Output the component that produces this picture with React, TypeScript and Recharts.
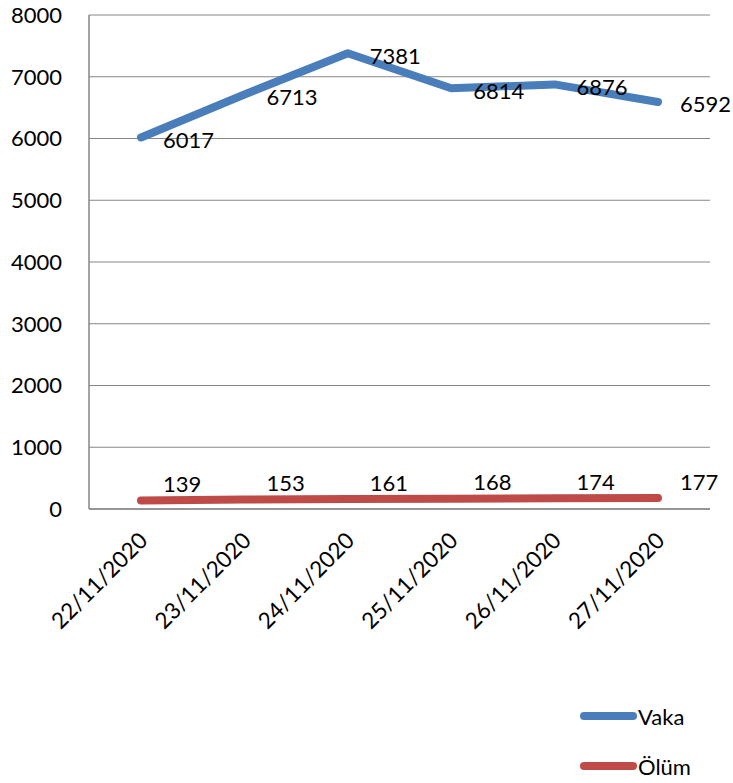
import { CartesianGrid, Legend, Line, LineChart, XAxis, YAxis } from 'recharts';

const dates = ['22/11/2020', '23/11/2020', '24/11/2020', '25/11/2020', '26/11/2020', '27/11/2020'];
const vaka = [6017, 6713, 7381, 6814, 6876, 6592];
const olum = [139, 153, 161, 168, 174, 177];
const yTicks = [0, 1000, 2000, 3000, 4000, 5000, 6000, 7000, 8000];

const rows = dates.map((date, i) => ({ date, vaka: vaka[i], olum: olum[i] }));

const FONT = 'Lato, "Open Sans", sans-serif';
const BLUE = '#4A7EBB';
const RED = '#BE4B48';
const GRID = '#868686';

// value label placed to the right of the point, shifted by dy
function pointLabel(dx: number, dy: number) {
  return (props: any) => {
    const { x, y, value } = props;
    return (
      <text x={x + dx} y={y + dy} fontSize={22} fill="#000" dominantBaseline="central" fontFamily={FONT}>
        {value}
      </text>
    );
  };
}

function DateTick(props: any) {
  const { x, y, payload } = props;
  return (
    <g transform={`translate(${x + 8}, ${y + 25})`}>
      <text transform="rotate(-45)" textAnchor="end" fontSize={22.5} fill="#000" fontFamily={FONT}>
        {payload.value}
      </text>
    </g>
  );
}

const legendItems = [
  { name: 'Vaka', color: BLUE, top: 33 },
  { name: 'Ölüm', color: RED, top: 83 },
];

function SeriesLegend() {
  return (
    <div style={{ position: 'relative', height: 100, width: '100%' }}>
      {legendItems.map((item) => (
        <div
          key={item.name}
          style={{
            position: 'absolute',
            left: 580,
            top: item.top - 14,
            height: 28,
            display: 'flex',
            alignItems: 'center',
            fontSize: 22,
            fontFamily: FONT,
            color: '#000',
          }}
        >
          <span style={{ display: 'inline-block', width: 57, height: 8, borderRadius: 4, background: item.color }} />
          <span style={{ marginLeft: 1 }}>{item.name}</span>
        </div>
      ))}
    </div>
  );
}

export default function App() {
  return (
    <div style={{ position: 'absolute', left: 0, top: 0, fontFamily: FONT, background: '#fff' }}>
      <LineChart width={733} height={783} data={rows} margin={{ top: 15, right: 23, bottom: 0, left: 0 }}>
        <CartesianGrid vertical={false} stroke={GRID} strokeWidth={1} />
        <XAxis
          dataKey="date"
          height={174}
          interval={0}
          padding={{ left: 52, right: 52 }}
          tick={<DateTick />}
          tickLine={false}
          axisLine={{ stroke: GRID, strokeWidth: 1.5 }}
        />
        <YAxis
          width={89}
          domain={[0, 8000]}
          ticks={yTicks}
          interval={0}
          tickLine={false}
          tickSize={0}
          tickMargin={27}
          axisLine={{ stroke: GRID, strokeWidth: 1.5 }}
          tick={{ fontSize: 22, fill: '#000', fontFamily: FONT }}
        />
        <Legend verticalAlign="bottom" content={<SeriesLegend />} />
        <Line
          dataKey="vaka"
          name="Vaka"
          stroke={BLUE}
          strokeWidth={8}
          strokeLinecap="round"
          strokeLinejoin="round"
          dot={false}
          isAnimationActive={false}
          label={pointLabel(22, 2)}
        />
        <Line
          dataKey="olum"
          name="Ölüm"
          stroke={RED}
          strokeWidth={8}
          strokeLinecap="round"
          strokeLinejoin="round"
          dot={false}
          isAnimationActive={false}
          label={pointLabel(22, -17)}
        />
      </LineChart>
    </div>
  );
}
